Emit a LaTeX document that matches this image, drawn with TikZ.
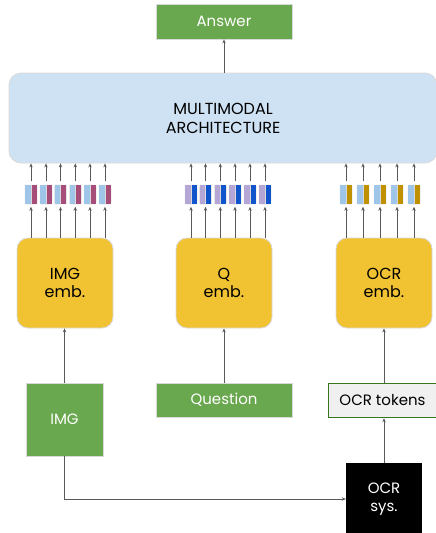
\documentclass[tikz,border=0pt]{standalone}
\usepackage{fontspec}
\setmainfont{Poppins}
\usetikzlibrary{arrows.meta}
\definecolor{gfill}{HTML}{6AA84F}
\definecolor{gdark}{HTML}{38761D}
\definecolor{mmfill}{HTML}{CFE2F3}
\definecolor{embfill}{HTML}{F1C232}
\definecolor{lblue}{HTML}{9FC5E8}
\definecolor{magen}{HTML}{A64D79}
\definecolor{lpurp}{HTML}{B4A7D6}
\definecolor{dblue}{HTML}{1155CC}
\definecolor{gold}{HTML}{BF9000}
\definecolor{linec}{HTML}{595959}
\definecolor{edgec}{HTML}{D9D9D9}
\tikzset{
  arr/.style={draw=linec, line width=0.7pt, -{Stealth[length=4pt,width=3.4pt]}},
  greenbox/.style={draw=edgec, line width=0.8pt, fill=gfill, text=white, inner sep=0pt, font=\fontsize{15}{18}\selectfont, align=center},
  embbox/.style={draw=edgec, line width=0.8pt, fill=embfill, rounded corners=11pt, minimum width=96pt, minimum height=90pt, inner sep=0pt, align=center, font=\fontsize{16}{18.5}\selectfont},
  tokbox/.style={draw=edgec, line width=0.5pt, minimum width=12pt, minimum height=19pt, inner sep=0pt, rounded corners=1pt},
}
\newcommand{\tokpair}[4]{% name, x, left color, right color
  \node[tokbox] (#1) at (#2,194.5) {};
  \fill[#3] ([xshift=0.6pt,yshift=0.6pt]#1.south west) rectangle ([yshift=-0.6pt]#1.north);
  \fill[#4] ([yshift=0.6pt]#1.south) rectangle ([xshift=-0.6pt,yshift=-0.6pt]#1.north east);
  \draw[edgec, line width=0.4pt] (#1.south) -- (#1.north);
}
\begin{document}
\begin{tikzpicture}[x=1pt,y=-1pt]
\useasboundingbox (0,0) rectangle (436,533);
% top
\node[greenbox, minimum width=136pt, minimum height=35pt] (ans) at (224,21.5) {Answer};
\node[draw=edgec, line width=0.8pt, fill=mmfill, rounded corners=12pt, minimum width=428pt, minimum height=90pt, inner sep=0pt, align=center, font=\fontsize{16}{19}\selectfont] (mm) at (223,118) {MULTIMODAL\\ARCHITECTURE};
\draw[arr] (mm.north -| ans) -- (ans.south);
% embeddings
\node[embbox] (iemb) at (65,283) {IMG\\emb.};
\node[embbox] (qemb) at (224,283) {Q\\emb.};
\node[embbox] (oemb) at (384,283) {OCR\\emb.};
% tokens
\foreach \k/\x in {1/31,2/46,3/60.5,4/75.3,5/90,6/105}{
  \tokpair{i\k}{\x}{lblue}{magen}
  \draw[arr, shorten >=2.5pt] (iemb.north -| i\k) -- (i\k.south);
  \draw[arr, shorten <=3.5pt] (i\k.north) -- (mm.south -| i\k);
}
\foreach \k/\x in {1/191,2/205.5,3/220.3,4/235,5/250,6/265}{
  \tokpair{q\k}{\x}{lpurp}{dblue}
  \draw[arr, shorten >=2.5pt] (qemb.north -| q\k) -- (q\k.south);
  \draw[arr, shorten <=3.5pt] (q\k.north) -- (mm.south -| q\k);
}
\foreach \k/\x in {1/346,2/363,3/380,4/397,5/414}{
  \tokpair{o\k}{\x}{lblue}{gold}
  \draw[arr, shorten >=2.5pt] (oemb.north -| o\k) -- (o\k.south);
  \draw[arr, shorten <=3.5pt] (o\k.north) -- (mm.south -| o\k);
}
% inputs
\node[greenbox, minimum width=77pt, minimum height=73pt] (img) at (64.5,419.5) {IMG};
\node[greenbox, minimum width=136pt, minimum height=34pt] (qu) at (224,400) {Question};
\node[draw=gdark, line width=1.4pt, fill=black!6, minimum width=108pt, minimum height=34pt, inner sep=0pt, font=\fontsize{15}{18}\selectfont] (ocrt) at (382.5,400.5) {OCR tokens};
\node[fill=black, text=white, minimum width=76pt, minimum height=72pt, inner sep=0pt, align=center, font=\fontsize{15}{18}\selectfont] (ocrs) at (384,499) {OCR\\sys.};
% connectors
\draw[arr] (img.north) -- (img.north |- iemb.south);
\draw[arr] (qu.north) -- (qemb.south);
\draw[arr] (ocrt.north -| oemb) -- (oemb.south);
\draw[arr] (ocrs.north) -- (ocrs.north |- ocrt.south);
\draw[arr] (img.south) |- (ocrs.west);
\end{tikzpicture}
\end{document}
